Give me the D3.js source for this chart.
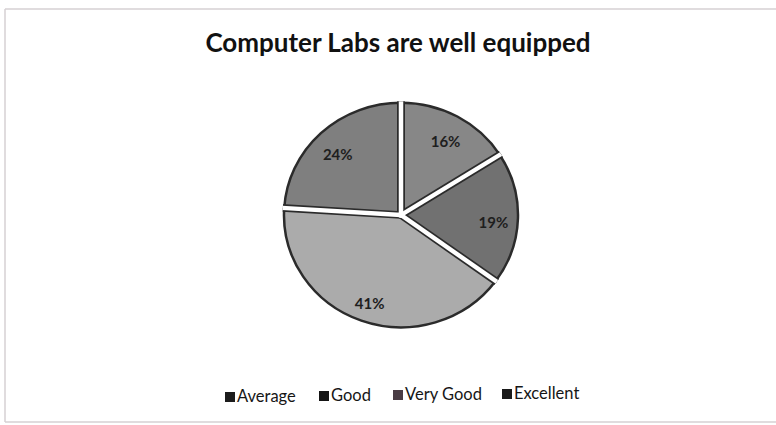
<!DOCTYPE html>
<html lang="en">
<head>
    <meta charset="UTF-8">
    <title>Computer Labs are well equipped</title>
    <script src="https://d3js.org/d3.v7.min.js"></script>
    <style>
        body {
            margin: 0;
            padding: 0;
            background-color: #fff;
            font-family: Lato, 'Open Sans', sans-serif;
            overflow: hidden;
        }
        .frame line {
            stroke: #d6d0d3;
            stroke-width: 1.5px;
        }
        .slice path {
            stroke: #2b2b2b;
            stroke-width: 2.5px;
        }
        .gap-dark {
            stroke: #2b2b2b;
            stroke-width: 8px;
        }
        .gap-white {
            stroke: #fff;
            stroke-width: 4.5px;
        }
        .label {
            font-size: 15px;
            font-weight: bold;
            fill: #1e1e1e;
            text-anchor: middle;
        }
        .legend text {
            font-size: 16.5px;
            fill: #161616;
        }
    </style>
</head>
<body>
<div id="chart"></div>
<script>
    // chart data
    const categories = ["Average", "Good", "Very Good", "Excellent"];
    const values = [16, 19, 41, 24];
    const sliceColors = ["#878787", "#717171", "#ababab", "#7f7f7f"];
    const legendColors = ["#1c1c1c", "#141414", "#4a3c44", "#1a1a1a"];
    const title = "Computer Labs are well equipped";

    const width = 776, height = 425;
    const cx = 401, cy = 215;
    const radius = 117;
    const squash = 0.96; // the scan is a bit flattened

    const svg = d3.select("#chart").append("svg")
        .attr("width", width)
        .attr("height", height);

    // faint scanned frame (top, left, bottom)
    const frame = svg.append("g").attr("class", "frame");
    frame.append("line").attr("x1", 5).attr("y1", 9).attr("x2", 776).attr("y2", 9);
    frame.append("line").attr("x1", 5).attr("y1", 9).attr("x2", 5).attr("y2", 422);
    frame.append("line").attr("x1", 5).attr("y1", 422).attr("x2", 776).attr("y2", 422);

    // title
    svg.append("text")
        .attr("x", 398)
        .attr("y", 52)
        .attr("text-anchor", "middle")
        .style("font-size", "26px")
        .style("font-weight", "bold")
        .style("fill", "#111")
        .text(title);

    // pie
    const pie = d3.pie().sort(null).value(d => d.value);
    const arc = d3.arc().innerRadius(0).outerRadius(radius);
    const labelArc = d3.arc().innerRadius(0).outerRadius(radius * 1.58);

    const data = categories.map((c, i) => ({ name: c, value: values[i], color: sliceColors[i] }));
    const arcs = pie(data);

    const g = svg.append("g")
        .attr("transform", `translate(${cx},${cy}) scale(1,${squash})`);

    g.append("clipPath").attr("id", "pie-clip")
        .append("circle").attr("r", radius + 1.5);

    g.selectAll("g.slice")
        .data(arcs)
        .join("g")
        .attr("class", "slice")
        .append("path")
        .attr("d", arc)
        .attr("fill", d => d.data.color);

    // white separators with dark edges along every slice boundary
    const gaps = g.append("g").attr("clip-path", "url(#pie-clip)");
    const ends = arcs.map(d => d.startAngle);
    ["gap-dark", "gap-white"].forEach(cls => {
        gaps.selectAll("line." + cls)
            .data(ends)
            .join("line")
            .attr("class", cls)
            .attr("x1", 0).attr("y1", 0)
            .attr("x2", a => Math.sin(a) * (radius + 5))
            .attr("y2", a => -Math.cos(a) * (radius + 5));
    });
    gaps.append("circle").attr("r", 3).attr("fill", "#fff");

    // Excel sits the labels a little below the centroid
    g.selectAll("text.label")
        .data(arcs)
        .join("text")
        .attr("class", "label")
        .attr("transform", d => {
            const [x, y] = labelArc.centroid(d);
            return `translate(${x},${y + 5}) scale(1,${1 / squash})`;
        })
        .attr("dy", "0.35em")
        .text(d => d.data.value + "%");

    // legend
    const legendX = [225, 319, 393, 502];
    const legend = svg.append("g").attr("class", "legend")
        .selectAll("g")
        .data(categories)
        .join("g")
        .attr("transform", (d, i) => `translate(${legendX[i]},${402 - i})`);

    legend.append("rect")
        .attr("x", 0)
        .attr("y", -10)
        .attr("width", 10)
        .attr("height", 10)
        .attr("fill", (d, i) => legendColors[i]);

    legend.append("text")
        .attr("x", 12)
        .attr("y", 0)
        .text(d => d);
</script>
</body>
</html>
